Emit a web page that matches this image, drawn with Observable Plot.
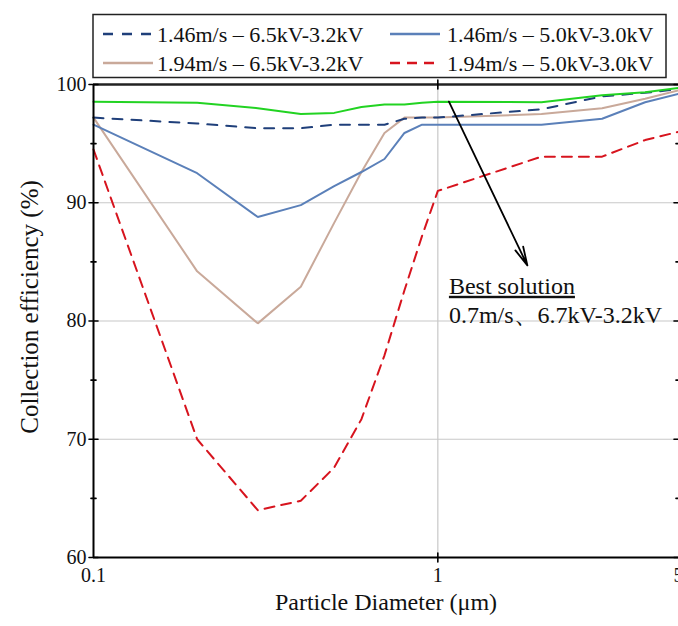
<!DOCTYPE html>
<html>
<head>
<meta charset="utf-8">
<script src="https://cdn.jsdelivr.net/npm/d3@7"></script>
<script src="https://cdn.jsdelivr.net/npm/@observablehq/plot@0.6"></script>
<style>
  html, body { margin: 0; padding: 0; background: #fff; }
  #wrap { position: relative; width: 678px; height: 626px; overflow: hidden; font-family: "Liberation Serif", "Times New Roman", serif; }
  #legend { position: absolute; left: 0; top: 0; }
</style>
</head>
<body>
<div id="wrap"></div>
<script>
// ---- data ----
const diameters = [0.1, 0.2, 0.3, 0.4, 0.5, 0.6, 0.7, 0.8, 0.9, 1, 2, 3, 4, 5];
const seriesNames = [
  "best",
  "1.46m/s – 6.5kV-3.2kV",
  "1.46m/s – 5.0kV-3.0kV",
  "1.94m/s – 6.5kV-3.2kV",
  "1.94m/s – 5.0kV-3.0kV"
];
const bestSolution   = [98.55, 98.45, 98.0, 97.5, 97.6, 98.1, 98.3, 98.3, 98.45, 98.55, 98.5, 99.1, 99.35, 99.7];
const v146_65_32     = [97.2, 96.7, 96.3, 96.3, 96.6, 96.6, 96.6, 97.1, 97.2, 97.2, 97.9, 99.0, 99.3, 99.6];
const v146_50_30     = [96.6, 92.5, 88.8, 89.8, 91.4, 92.6, 93.7, 95.9, 96.6, 96.6, 96.6, 97.1, 98.5, 99.2];
const v194_65_32     = [97.2, 84.2, 79.8, 82.9, 88.3, 92.6, 95.9, 97.2, 97.2, 97.2, 97.5, 98.0, 98.8, 99.5];
const v194_50_30     = [94.5, 70.0, 64.0, 64.8, 67.6, 71.7, 77.1, 82.6, 87.2, 91.0, 93.9, 93.9, 95.3, 96.0];
const seriesValues = [bestSolution, v146_65_32, v146_50_30, v194_65_32, v194_50_30];
const seriesColors = ["#22d322", "#1f3f7a", "#5b80b9", "#c9a99a", "#d7141e"];
const seriesDash   = [null, "10,9", null, null, "10,7"];

const xTicks = [0.1, 1, 5];
const yTicks = [60, 70, 80, 90, 100];
const yMinorTicks = [65, 75, 85, 95];
const xDomain = [0.1, 5];
const yDomain = [60, 100];
const xTitle = "Particle Diameter (μm)";
const yTitle = "Collection efficiency (%)";
const annotLines = ["Best solution", "0.7m/s、6.7kV-3.2kV"];
const arrowFrom = {x: 1.077, y: 98.55};
const arrowTo = {x: 1.82, y: 84.7};
const annotPos = {x: 1.077, y1: 82.3, y2: 79.8};

// ---- build rows ----
const rows = [];
seriesNames.forEach((name, i) => {
  diameters.forEach((d, j) => rows.push({series: name, d, v: seriesValues[i][j], i}));
});

const tickShape = { draw(context, l) { context.moveTo(0, 0); context.lineTo(0, -l); } };

const lineMarks = seriesNames.map((name, i) =>
  Plot.line(rows.filter(r => r.i === i), {
    x: "d", y: "v", stroke: seriesColors[i], strokeWidth: 2,
    strokeDasharray: seriesDash[i] || undefined, strokeLinejoin: "miter"
  })
);

const plot = Plot.plot({
  width: 678,
  height: 626,
  marginLeft: 93,
  marginRight: 0,
  marginTop: 84,
  marginBottom: 69,
  style: { fontFamily: "'Liberation Serif', 'Times New Roman', serif", fontSize: "20px", background: "#fff", overflow: "hidden" },
  x: { type: "log", domain: xDomain },
  y: { domain: yDomain },
  marks: [
    Plot.gridY([70, 80, 90], { stroke: "#c8c8c8", strokeOpacity: 1, strokeWidth: 1.2 }),
    Plot.gridX([1], { stroke: "#c8c8c8", strokeOpacity: 1, strokeWidth: 1.2 }),
    ...lineMarks.reverse(),
    Plot.arrow([0], { x1: () => arrowFrom.x, y1: () => arrowFrom.y, x2: () => arrowTo.x, y2: () => arrowTo.y,
      stroke: "#000", strokeWidth: 1.8, headLength: 16, headAngle: 26 }),
    Plot.text([annotLines[0]], { x: () => annotPos.x, y: () => annotPos.y1, text: d => d, textAnchor: "start", lineAnchor: "bottom", fontSize: 24, fill: "#111" }),
    Plot.text([annotLines[1]], { x: () => annotPos.x, y: () => annotPos.y2, text: d => d, textAnchor: "start", lineAnchor: "bottom", fontSize: 24, fill: "#111" }),
    // frame lines
    Plot.ruleY([60], { stroke: "#000", strokeWidth: 2 }),
    Plot.ruleY([100], { stroke: "#222", strokeWidth: 2.5 }),
    Plot.ruleX([0.1], { stroke: "#000", strokeWidth: 2 }),
    // inward ticks
    Plot.vector(yTicks, { x: () => 0.1, y: d => d, rotate: 90, length: 9, shape: tickShape, stroke: "#000", strokeWidth: 1.6 }),
    Plot.vector(yMinorTicks, { x: () => 0.1, y: d => d, rotate: 90, length: 5, shape: tickShape, stroke: "#000", strokeWidth: 1.6 }),
    Plot.vector(yTicks, { x: () => 5, y: d => d, rotate: -90, length: 9, shape: tickShape, stroke: "#000", strokeWidth: 1.6 }),
    Plot.vector(yMinorTicks, { x: () => 5, y: d => d, rotate: -90, length: 5, shape: tickShape, stroke: "#000", strokeWidth: 1.6 }),
    Plot.vector([1], { x: d => d, y: () => 60, rotate: 0, length: 9, shape: tickShape, stroke: "#000", strokeWidth: 1.6 }),
    Plot.vector([1], { x: d => d, y: () => 100, rotate: 180, length: 9, shape: tickShape, stroke: "#000", strokeWidth: 1.6 }),
    // tick labels
    Plot.axisY({ ticks: yTicks, tickSize: 0, tickPadding: 7, label: null, fontSize: 20 }),
    Plot.axisX({ ticks: xTicks, tickFormat: d => String(d), tickSize: 0, tickPadding: 10, label: null, fontSize: 20 }),
    // axis titles
    Plot.text([xTitle], { frameAnchor: "bottom", text: d => d, dy: 52, fontSize: 24, fill: "#111" }),
    Plot.text([yTitle], { frameAnchor: "left", textAnchor: "middle", text: d => d, rotate: -90, dx: -64, dy: -14, fontSize: 25, fill: "#111" })
  ]
});

d3.select(plot).selectAll("text").filter(function() { return this.textContent === annotLines[0]; })
  .attr("text-decoration", "underline");
d3.select(plot).selectAll("text").attr("fill", "#111");

const wrap = document.getElementById("wrap");
wrap.appendChild(plot);

// ---- legend (HTML overlay above the plot frame) ----
const legendItems = seriesNames.slice(1).map((name, k) => ({ name, color: seriesColors[k + 1], dash: seriesDash[k + 1] }));
const legendPos = [
  { sx: 103, tx: 157, y: 34 }, { sx: 390, tx: 447, y: 34 },
  { sx: 103, tx: 157, y: 63 }, { sx: 390, tx: 447, y: 63 }
];
const lg = d3.select(wrap).append("svg").attr("id", "legend").attr("width", 678).attr("height", 84);
lg.append("rect").attr("x", 93).attr("y", 14.5).attr("width", 573).attr("height", 63)
  .attr("fill", "#fff").attr("stroke", "#222").attr("stroke-width", 1.5);
legendItems.forEach((it, k) => {
  const p = legendPos[k];
  lg.append("line").attr("x1", p.sx).attr("x2", p.sx + 50).attr("y1", p.y).attr("y2", p.y)
    .attr("stroke", it.color).attr("stroke-width", 2.5).attr("stroke-dasharray", it.dash || null);
  lg.append("text").attr("x", p.tx).attr("y", p.y).attr("dy", "0.35em")
    .attr("font-size", 22).attr("font-family", "'Liberation Serif', 'Times New Roman', serif")
    .attr("fill", "#111").text(it.name);
});
</script>
</body>
</html>
